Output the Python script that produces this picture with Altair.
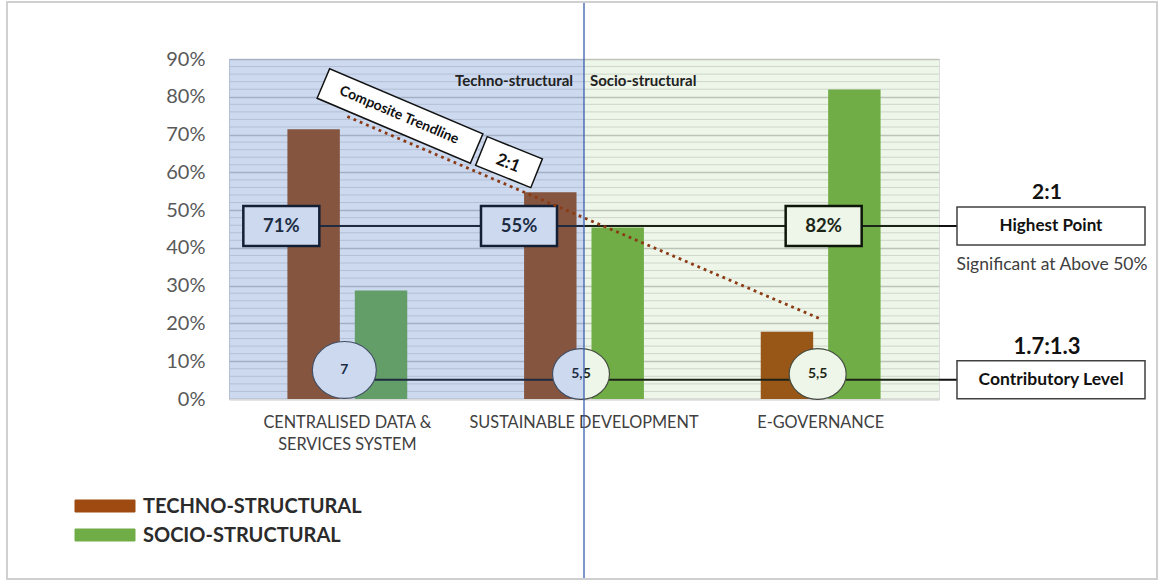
import altair as alt
import numpy as np
import pandas as pd

# ---------------- data ----------------
categories = ["CENTRALISED DATA & SERVICES SYSTEM", "SUSTAINABLE DEVELOPMENT", "E-GOVERNANCE"]
series_names = ["TECHNO-STRUCTURAL", "SOCIO-STRUCTURAL"]
techno_values = [0.714, 0.547, 0.178]
socio_values = [0.287, 0.454, 0.819]
contrib_labels = ["7", "5,5", "5,5"]
y_tick_values = [0.0, 0.1, 0.2, 0.3, 0.4, 0.5, 0.6, 0.7, 0.8, 0.9]
minor_grid_values = [round(i * 0.02, 2) for i in range(1, 45) if i % 5]
region_labels = ["Techno-structural", "Socio-structural"]
highest_ratio = "2:1"
contrib_ratio = "1.7:1.3"
highest_level = 0.458
contrib_level = 0.051

# ---------------- styling / geometry ----------------
FONT = "Lato"
TECH = "#9E4A10"
SOC = "#70AD47"
W, H = 710, 340
PI, PO = 0.4937, 0.24685
step = W / (3 - PI + 2 * PO)
cat_center = [step * PO + k * step + step * (1 - PI) / 2 for k in range(3)]
divider_x = cat_center[1]


def rect_path(r):
    return f"M -1 {-r} L 1 {-r} L 1 {r} L -1 {r} Z"


ELLIPSE = "M -1 0 A 1 0.89 0 1 1 1 0 A 1 0.89 0 1 1 -1 0 Z"

xscale = alt.Scale(domain=categories, paddingInner=PI, paddingOuter=PO)
yscale = alt.Scale(domain=[0, 0.9], nice=False, zero=True)

label_expr = ("datum.label == 'CENTRALISED DATA & SERVICES SYSTEM' ? "
              "['CENTRALISED DATA &', 'SERVICES SYSTEM'] : datum.label")

xaxis = alt.Axis(labelExpr=label_expr, labelAngle=0, labelFont=FONT,
                 labelFontSize=16.3, labelColor="#404040", labelPadding=15,
                 labelLineHeight=22, labelLimit=400, labelOverlap=False,
                 ticks=False, domain=True, domainColor="#D9D9D9",
                 domainWidth=2, grid=False, title=None)
yaxis = alt.Axis(values=y_tick_values, format=".0%", labelFont=FONT,
                 labelFontSize=20, labelColor="#595959", labelPadding=24,
                 ticks=False, domain=False, grid=True,
                 gridColor="#C6C6C6", gridWidth=1.5, title=None)

X = alt.X("category:N", sort=categories, scale=xscale, axis=xaxis, title=None)


def Yd(v):
    return alt.YDatum(v, scale=yscale, axis=yaxis, title=None)


def Yf(f):
    return alt.Y(f, scale=yscale, axis=yaxis, title=None)


one = pd.DataFrame({"k": [0]})

bar_df = pd.DataFrame({
    "category": categories * 2,
    "series": [series_names[0]] * 3 + [series_names[1]] * 3,
    "value": techno_values + socio_values,
})

cat_df = pd.DataFrame({
    "category": categories,
    "techno": techno_values,
    "socio": socio_values,
    "contrib": contrib_labels,
})
cat_df["maxlabel"] = [f"{round(max(a, b) * 100)}%" for a, b in zip(techno_values, socio_values)]
coef = np.polyfit(np.arange(3), np.array(techno_values), 1)
cat_df["trend"] = np.polyval(coef, np.arange(3))

layers = []

# minor gridlines (behind the bars)
layers.append(
    alt.Chart(pd.DataFrame({"v": minor_grid_values})).mark_rule(color="#DCDCDC", strokeWidth=1)
    .encode(y=Yf("v:Q"), x=alt.value(0), x2=alt.value(W))
)

# bars
layers.append(
    alt.Chart(bar_df).mark_bar().encode(
        x=X,
        xOffset=alt.XOffset("series:N", sort=series_names,
                            scale=alt.Scale(paddingInner=0.2222, paddingOuter=0)),
        y=Yf("value:Q"),
        color=alt.Color("series:N", scale=alt.Scale(domain=series_names, range=[TECH, SOC]),
                        legend=None),
    )
)

# highest-point connecting line and contributory line
layers.append(alt.Chart(one).mark_rule(color="#111111", strokeWidth=2).encode(
    x=alt.value(cat_center[0] - 66), x2=alt.value(728), y=Yd(highest_level)))
layers.append(alt.Chart(one).mark_rule(color="#111111", strokeWidth=2).encode(
    x=alt.value(cat_center[0]), x2=alt.value(728), y=Yd(contrib_level)))

# value boxes (71%, 55%, 82%)
box_offsets = [-66, -65, 3]
for i, c in enumerate(categories):
    sub = cat_df[cat_df.category == c]
    layers.append(alt.Chart(sub).mark_point(
        shape=rect_path(0.526), size=5776, filled=True, fill="white", stroke="#000000",
        strokeWidth=2.5, opacity=1, xOffset=box_offsets[i]).encode(x=X, y=Yd(highest_level)))
    layers.append(alt.Chart(sub).mark_text(
        font=FONT, fontSize=18.5, fontWeight="bold", color="#111111", baseline="middle",
        xOffset=box_offsets[i]).encode(x=X, y=Yd(highest_level), text="maxlabel:N"))

# contributory circles
circle_sizes = [4096, 3249, 3249]
circle_levels = [0.0768, 0.066, 0.066]
for i, c in enumerate(categories):
    sub = cat_df[cat_df.category == c]
    layers.append(alt.Chart(sub).mark_point(
        shape=ELLIPSE, size=circle_sizes[i], filled=True, fill="white", stroke="#404040",
        strokeWidth=1.2, opacity=1, xOffset=-3).encode(x=X, y=Yd(circle_levels[i])))
    layers.append(alt.Chart(sub).mark_text(
        font=FONT, fontSize=14, fontWeight="bold", color="#111111", baseline="middle",
        xOffset=-3).encode(x=X, y=Yd(circle_levels[i]), text="contrib:N"))

# translucent region overlays
layers.append(alt.Chart(one).mark_rect(fill="#4472C4", opacity=0.27).encode(
    x=alt.value(0), x2=alt.value(divider_x), y=alt.value(0), y2=alt.value(H)))
layers.append(alt.Chart(one).mark_rect(fill="#70AD47", opacity=0.12).encode(
    x=alt.value(divider_x), x2=alt.value(W), y=alt.value(0), y2=alt.value(H)))

# trendline (linear fit of techno-structural)
layers.append(alt.Chart(cat_df).mark_line(
    color="#8B3A14", strokeWidth=2.8, strokeDash=[2.8, 4], strokeCap="butt").encode(
    x=X, y=Yf("trend:Q")))

# rotated annotation boxes
layers.append(alt.Chart(one).mark_point(
    shape=rect_path(0.192), size=27722, angle=23, filled=True, fill="white",
    stroke="#111111", strokeWidth=1.5, opacity=1).encode(x=alt.value(171), y=Yd(0.749)))
layers.append(alt.Chart(one).mark_text(
    text="Composite Trendline", angle=23, font=FONT, fontSize=14, fontWeight="bold",
    color="#111111", baseline="middle").encode(x=alt.value(170), y=Yd(0.751)))
layers.append(alt.Chart(one).mark_point(
    shape=rect_path(0.52), size=3540, angle=22, filled=True, fill="white",
    stroke="#111111", strokeWidth=1.5, opacity=1).encode(x=alt.value(280), y=Yd(0.627)))
layers.append(alt.Chart(one).mark_text(
    text=highest_ratio, angle=22, font=FONT, fontSize=17, fontWeight="bold",
    color="#111111", baseline="middle").encode(x=alt.value(279), y=Yd(0.624)))

# region labels
layers.append(alt.Chart(one).mark_text(
    text=region_labels[0], font=FONT, fontSize=15, fontWeight="bold", color="#222222",
    align="right", baseline="middle").encode(x=alt.value(divider_x - 11), y=Yd(0.842)))
layers.append(alt.Chart(one).mark_text(
    text=region_labels[1], font=FONT, fontSize=15, fontWeight="bold", color="#222222",
    align="left", baseline="middle").encode(x=alt.value(divider_x + 6), y=Yd(0.842)))

# divider
layers.append(alt.Chart(one).mark_rule(color="#3A5DAE", strokeWidth=1.3).encode(
    x=alt.value(divider_x), y=alt.value(-57), y2=alt.value(519)))

# right-side annotation boxes
for lvl, txt, fs in [(highest_level, "Highest Point", 17), (contrib_level, "Contributory Level", 17.5)]:
    layers.append(alt.Chart(one).mark_point(
        shape=rect_path(0.202), size=35344, filled=True, fill="white", stroke="#404040",
        strokeWidth=1.5, opacity=1).encode(x=alt.value(822), y=Yd(lvl)))
    layers.append(alt.Chart(one).mark_text(
        text=txt, font=FONT, fontSize=fs, fontWeight="bold", color="#111111",
        baseline="middle").encode(x=alt.value(822), y=Yd(lvl)))
layers.append(alt.Chart(one).mark_text(
    text=highest_ratio, font=FONT, fontSize=21, fontWeight="bold", color="#111111",
    baseline="middle").encode(x=alt.value(818), y=Yd(0.546)))
layers.append(alt.Chart(one).mark_text(
    text=contrib_ratio, font=FONT, fontSize=22, fontWeight="bold", color="#111111",
    baseline="middle").encode(x=alt.value(818), y=Yd(0.138)))
layers.append(alt.Chart(one).mark_text(
    text="Significant at Above 50%", font=FONT, fontSize=17.5, color="#404040",
    baseline="middle").encode(x=alt.value(823), y=Yd(0.355)))

# legend
leg_rows = [447, 476]
for name, col, yy in zip(series_names, [TECH, SOC], leg_rows):
    layers.append(alt.Chart(one).mark_rect(fill=col, stroke=col, strokeWidth=1).encode(
        x=alt.value(-154), x2=alt.value(-94), y=alt.value(yy - 6), y2=alt.value(yy + 6)))
    layers.append(alt.Chart(one).mark_text(
        text=name, font=FONT, fontSize=20, fontWeight="bold", color="#2B2B2B",
        align="left", baseline="middle").encode(x=alt.value(-86), y=alt.value(yy + 1)))

# outer frame
layers.append(alt.Chart(one).mark_rect(fillOpacity=0, stroke="#D0D0D0", strokeWidth=2).encode(
    x=alt.value(-222), x2=alt.value(928), y=alt.value(-57), y2=alt.value(520)))

chart = alt.layer(*layers).properties(
    width=W, height=H,
    autosize=alt.AutoSizeParams(type="none"),
    padding={"left": 229, "top": 59, "right": 1160 - 229 - W, "bottom": 581 - 59 - H},
    background="white",
).configure_view(stroke=None).configure(font=FONT)

chart.save("out.html", embed_options={"renderer": "svg", "actions": False})
